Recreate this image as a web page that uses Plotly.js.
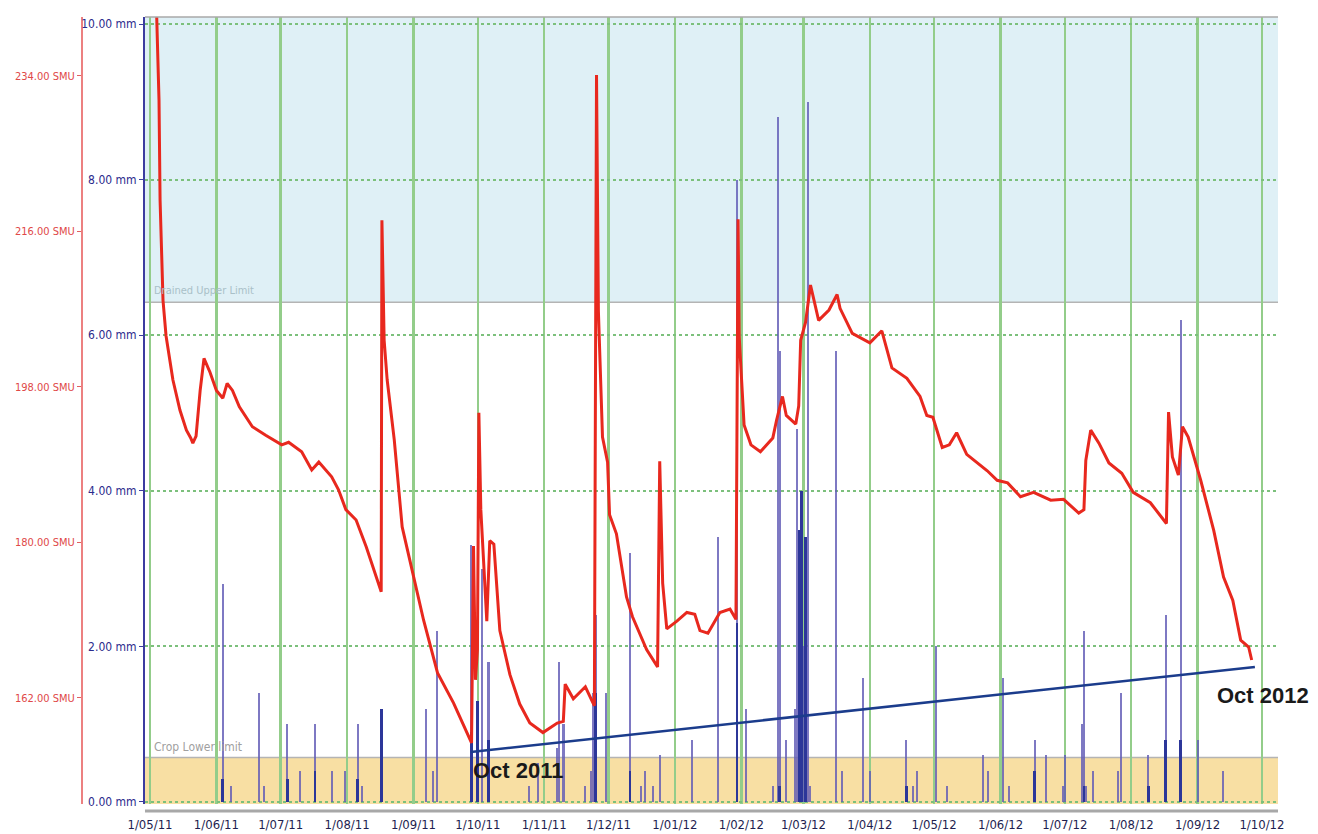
<!DOCTYPE html>
<html>
<head>
<meta charset="utf-8">
<script src="https://cdn.plot.ly/plotly-3.0.1.min.js"></script>
<style>html,body{margin:0;padding:0;background:#fff;}#chart{width:1318px;height:834px;}</style>
</head>
<body>
<div id="chart"></div>
<script>
// ---- Data ----
const monthTicks = ['2011-05-01','2011-06-01','2011-07-01','2011-08-01','2011-09-01','2011-10-01','2011-11-01','2011-12-01','2012-01-01','2012-02-01','2012-03-01','2012-04-01','2012-05-01','2012-06-01','2012-07-01','2012-08-01','2012-09-01','2012-10-01'];
const monthLabels = ['1/05/11','1/06/11','1/07/11','1/08/11','1/09/11','1/10/11','1/11/11','1/12/11','1/01/12','1/02/12','1/03/12','1/04/12','1/05/12','1/06/12','1/07/12','1/08/12','1/09/12','1/10/12'];
const mmTicks = [0,2,4,6,8,10];
const mmLabels = ['0.00 mm','2.00 mm','4.00 mm','6.00 mm','8.00 mm','10.00 mm'];
const smuTicks = [162,180,198,216,234];
const smuLabels = ['162.00 SMU','180.00 SMU','198.00 SMU','216.00 SMU','234.00 SMU'];

const smuDates = ['2011-05-04','2011-05-05 05:00','2011-05-05 17:00','2011-05-07 02:00','2011-05-08 12:00','2011-05-11 17:00','2011-05-15','2011-05-18','2011-05-20','2011-05-21',
'2011-05-22 12:00','2011-05-24 10:00','2011-05-26 05:00','2011-05-29','2011-06-01','2011-06-04','2011-06-06','2011-06-08 12:00','2011-06-11 17:00','2011-06-17 19:00',
'2011-06-24','2011-07-01 12:00','2011-07-04 17:00','2011-07-10 19:00','2011-07-15 12:00','2011-07-18 19:00','2011-07-24 19:00','2011-07-28','2011-07-31 10:00','2011-08-05 05:00',
'2011-08-09 22:00','2011-08-14 14:00','2011-08-16 22:00','2011-08-17 06:00','2011-08-18 07:00','2011-08-19 17:00','2011-08-23','2011-08-26 17:00','2011-09-01','2011-09-05 17:00',
'2011-09-12 05:00','2011-09-19 17:00','2011-09-28 02:00','2011-09-29 00:00','2011-09-29 22:00','2011-09-30 20:00','2011-10-01 12:00','2011-10-02 10:00','2011-10-05 05:00','2011-10-06 14:00',
'2011-10-08 12:00','2011-10-11 07:00','2011-10-16','2011-10-20 14:00','2011-10-25 07:00','2011-10-31 10:00','2011-11-07 02:00','2011-11-09 22:00','2011-11-10 19:00','2011-11-14 14:00',
'2011-11-20 05:00','2011-11-24 10:00','2011-11-25 10:00','2011-11-26 07:00','2011-11-28 05:00','2011-11-30 14:00','2011-12-01 12:00','2011-12-04 17:00','2011-12-09 10:00','2011-12-12 05:00',
'2011-12-18 19:00','2011-12-23 22:00','2011-12-24 22:00','2011-12-26 07:00','2011-12-28 05:00','2012-01-01 22:00','2012-01-06 14:00','2012-01-10 07:00','2012-01-12 17:00','2012-01-16 10:00',
'2012-01-22','2012-01-26 17:00','2012-01-29 12:00','2012-01-30 12:00','2012-01-31','2012-02-01 10:00','2012-02-02 07:00','2012-02-05 12:00','2012-02-09 22:00','2012-02-15 17:00',
'2012-02-17 12:00','2012-02-20 05:00','2012-02-22','2012-02-26 10:00','2012-02-27 19:00','2012-02-28 17:00','2012-03-02','2012-03-04 07:00','2012-03-08 02:00','2012-03-12 22:00',
'2012-03-16 17:00','2012-03-18 02:00','2012-03-23 19:00','2012-04-01','2012-04-06 14:00','2012-04-11 07:00','2012-04-18 07:00','2012-04-24 10:00','2012-04-27 14:00','2012-04-30 10:00',
'2012-05-04 19:00','2012-05-08 02:00','2012-05-11 12:00','2012-05-16 05:00','2012-05-25 19:00','2012-05-30 10:00','2012-06-04 07:00','2012-06-10 07:00','2012-06-16 10:00','2012-06-24 10:00',
'2012-06-30 10:00','2012-07-07 12:00','2012-07-09 22:00','2012-07-10 19:00','2012-07-13 02:00','2012-07-16 22:00','2012-07-21 14:00','2012-07-27 14:00','2012-08-01 22:00','2012-08-09 22:00',
'2012-08-17 10:00','2012-08-18 10:00','2012-08-20 05:00','2012-08-23','2012-08-24 22:00','2012-08-27 14:00','2012-09-02 10:00','2012-09-08 12:00','2012-09-13 02:00','2012-09-17 10:00',
'2012-09-21 02:00','2012-09-24 19:00','2012-09-26 05:00'];
const smuValues = [242,231.2,219.6,208.0,203.9,198.8,195.3,193.0,192.1,191.5,
192.3,197.6,201.3,199.7,197.6,196.7,198.4,197.6,195.7,193.4,
192.4,191.3,191.6,190.5,188.4,189.3,187.6,186.1,183.8,182.6,
179.5,176.0,174.3,217.3,203.4,198.8,191.9,181.8,176.0,171.0,
164.9,161.4,156.8,179.6,164.1,167.6,195.0,183.8,170.9,180.2,
179.8,169.8,164.7,161.3,159.1,158.0,159.1,159.3,163.6,161.9,
163.3,161.1,234.1,206.8,192.2,189.3,183.2,181.0,173.7,171.4,
167.6,165.6,189.4,175.3,170.0,170.9,171.9,171.7,169.8,169.5,
171.9,172.3,171.1,217.4,203.9,198.3,193.6,191.3,190.5,192.1,
194.2,196.9,194.7,193.7,195.8,203.4,205.5,209.8,205.7,206.9,
208.7,207.1,204.2,203.1,204.5,200.2,199.0,196.9,194.7,194.5,
191.0,191.3,192.7,190.2,188.3,187.2,186.9,185.3,185.8,184.9,
185.0,183.4,183.8,189.5,193.0,191.5,189.2,188.0,185.8,184.6,
182.2,195.1,189.9,187.8,193.4,192.2,187.2,181.4,176.0,173.3,
168.7,167.9,166.4];

const rainDates = ['2011-06-04','2011-06-08','2011-06-21','2011-06-23','2011-07-04','2011-07-10','2011-07-17','2011-07-25','2011-07-31','2011-08-06',
'2011-08-08','2011-08-17','2011-09-07','2011-09-10','2011-09-12','2011-09-28','2011-10-01','2011-10-03','2011-10-06','2011-10-25',
'2011-10-29','2011-11-07','2011-11-08','2011-11-10','2011-11-20','2011-11-23','2011-11-24','2011-11-25','2011-11-30','2011-12-11',
'2011-12-16','2011-12-18','2011-12-22','2011-12-25','2012-01-09','2012-01-21','2012-01-30','2012-02-03','2012-02-16','2012-02-18',
'2012-02-19','2012-02-22','2012-02-26','2012-02-27','2012-02-28','2012-02-29','2012-03-01','2012-03-02','2012-03-03','2012-03-04',
'2012-03-16','2012-03-19','2012-03-29','2012-04-01','2012-04-18','2012-04-21','2012-04-23','2012-05-02','2012-05-07','2012-05-24',
'2012-05-26','2012-06-02','2012-06-05','2012-06-17','2012-06-22','2012-06-30','2012-07-01','2012-07-09','2012-07-10','2012-07-11',
'2012-07-14','2012-07-26','2012-07-27','2012-08-09','2012-08-17','2012-08-24','2012-09-01','2012-09-13'];
const rainMm = [2.8,0.2,1.4,0.2,1.0,0.4,1.0,0.4,0.4,1.0,
0.2,1.2,1.2,0.4,2.2,3.3,1.3,3.0,1.8,0.2,
0.5,0.7,1.8,1.0,0.2,0.4,1.4,2.4,1.4,3.2,
0.2,0.4,0.2,0.6,0.8,3.4,8.0,1.2,0.2,8.8,
5.8,0.8,1.2,4.8,3.5,4.0,2.0,3.4,9.0,0.2,
5.8,0.4,1.6,0.4,0.8,0.2,0.4,2.0,0.2,0.6,
0.4,1.6,0.2,0.8,0.6,0.2,0.6,1.0,2.2,0.2,
0.4,0.4,1.4,0.6,2.4,6.2,0.8,0.4];

const rainDarkDates = ['2011-06-04','2011-07-04','2011-07-17','2011-08-06','2011-08-17','2011-09-28','2011-10-01','2011-10-06','2011-11-25','2011-12-11',
'2012-01-30','2012-02-19','2012-02-28','2012-02-29','2012-03-02','2012-04-18','2012-06-17','2012-07-10','2012-08-09','2012-08-17','2012-08-24'];
const rainDarkMm = [0.3,0.3,0.4,0.3,1.2,0.9,1.3,0.8,1.4,0.4,
2.3,0.2,3.5,4.0,3.4,0.2,0.4,0.2,0.2,0.8,0.8];

const drainedUpperLimit = 207.8;   // SMU
const cropLowerLimit = 155.1;      // SMU
const trendDates = ['2011-09-27 17:00','2012-09-27 17:00'];
const trendSMU = [155.75, 165.6];

// ---- Chart ----
const FONT = "'Liberation Sans Narrow', 'DejaVu Sans Condensed', 'Arial Narrow', 'Liberation Sans', sans-serif";
const SMU_RANGE = [149.73, 240.82];
const MM_RANGE = [-0.026, 10.09];
const DAY = 86400000;

const traces = [
  {type:'bar', x:rainDates, y:rainMm, width:rainDates.map(()=>0.95*DAY),
   marker:{color:'rgba(98,92,182,0.82)', line:{width:0}}, hoverinfo:'x+y'},
  {type:'bar', x:rainDarkDates, y:rainDarkMm, width:rainDarkDates.map(()=>1.3*DAY),
   marker:{color:'#2c3699', line:{width:0}}, hoverinfo:'x+y'},
  {type:'scatter', mode:'lines', x:smuDates, y:smuValues, yaxis:'y2',
   line:{color:'#e8281e', width:3}},
  {type:'scatter', mode:'lines', x:trendDates, y:trendSMU, yaxis:'y2',
   line:{color:'#1b3c8c', width:2.5}}
];

const layout = {
  width:1318, height:834,
  margin:{l:20, r:40, t:17, b:30},
  paper_bgcolor:'#ffffff', plot_bgcolor:'#ffffff',
  showlegend:false, barmode:'overlay', bargap:0,
  font:{family:FONT},
  xaxis:{
    type:'date', domain:[0.09936, 1],
    range:['2011-04-28 16:00','2012-10-08 12:00'],
    tickmode:'array', tickvals:monthTicks, ticktext:monthLabels,
    showgrid:true, gridcolor:'#93cd8a', gridwidth:2.5,
    ticks:'', showline:false, zeroline:false, ticklabelstandoff:11,
    tickfont:{family:FONT, size:13, color:'#1e1e50'}
  },
  yaxis:{
    range:MM_RANGE, tickmode:'array', tickvals:mmTicks, ticktext:mmLabels,
    showgrid:true, gridcolor:'#7cc07c', griddash:'dot', gridwidth:2,
    showline:true, linecolor:'#3c3ca0', linewidth:2,
    ticks:'outside', ticklen:4, tickcolor:'#3c3ca0',
    zeroline:false,
    tickfont:{family:FONT, size:12, color:'#2b2b8c'}
  },
  yaxis2:{
    overlaying:'y', side:'left', anchor:'free', position:0.04928,
    range:SMU_RANGE, tickmode:'array', tickvals:smuTicks, ticktext:smuLabels,
    showgrid:false, zeroline:false,
    showline:true, linecolor:'#ec8080', linewidth:2,
    ticks:'outside', ticklen:4, tickcolor:'#e06060',
    tickfont:{family:FONT, size:11, color:'#e04848'}
  },
  shapes:[
    {type:'rect', layer:'below', xref:'x domain', x0:0, x1:1, yref:'y2', y0:drainedUpperLimit, y1:SMU_RANGE[1],
     fillcolor:'#dff0f6', line:{width:0}},
    {type:'line', layer:'below', xref:'x domain', x0:0, x1:1, yref:'y2', y0:drainedUpperLimit, y1:drainedUpperLimit,
     line:{color:'#b4b4b4', width:1.5}},
    {type:'rect', layer:'below', xref:'x domain', x0:0, x1:1, yref:'y2', y0:SMU_RANGE[0], y1:cropLowerLimit,
     fillcolor:'#f8dfa3', line:{width:0}},
    {type:'line', layer:'below', xref:'x domain', x0:0, x1:1, yref:'y2', y0:cropLowerLimit, y1:cropLowerLimit,
     line:{color:'#b4b4b4', width:1.5}},
    {type:'line', xref:'x domain', x0:0, x1:1, yref:'paper', y0:1, y1:1,
     line:{color:'#a8a8a8', width:1.5}},
    {type:'line', xref:'x domain', x0:0, x1:1, yref:'paper', y0:-0.009, y1:-0.009,
     line:{color:'#a8a8a8', width:3}}
  ],
  annotations:[
    {xref:'x', yref:'y2', x:'2011-05-02', y:209.2, xanchor:'left', yanchor:'middle', showarrow:false,
     text:'Drained Upper Limit', font:{family:FONT, size:11, color:'#a9c0c8'}},
    {xref:'x', yref:'y2', x:'2011-05-02', y:156.3, xanchor:'left', yanchor:'middle', showarrow:false,
     text:'Crop Lower limit', font:{family:FONT, size:12, color:'#a0a0a0'}},
    {xref:'x', yref:'y2', x:'2011-09-27 17:00', y:153.6, xanchor:'left', yanchor:'middle', showarrow:false,
     text:'<b>Oct 2011</b>', font:{family:"'Liberation Sans', Arial, sans-serif", size:22, color:'#1a1a1a'}},
    {xref:'x', yref:'y2', x:'2012-09-09 07:00', y:162.3, xanchor:'left', yanchor:'middle', showarrow:false,
     text:'<b>Oct 2012</b>', font:{family:"'Liberation Sans', Arial, sans-serif", size:22, color:'#1a1a1a'}}
  ]
};

Plotly.newPlot('chart', traces, layout, {displayModeBar:false, staticPlot:true});
</script>
</body>
</html>
